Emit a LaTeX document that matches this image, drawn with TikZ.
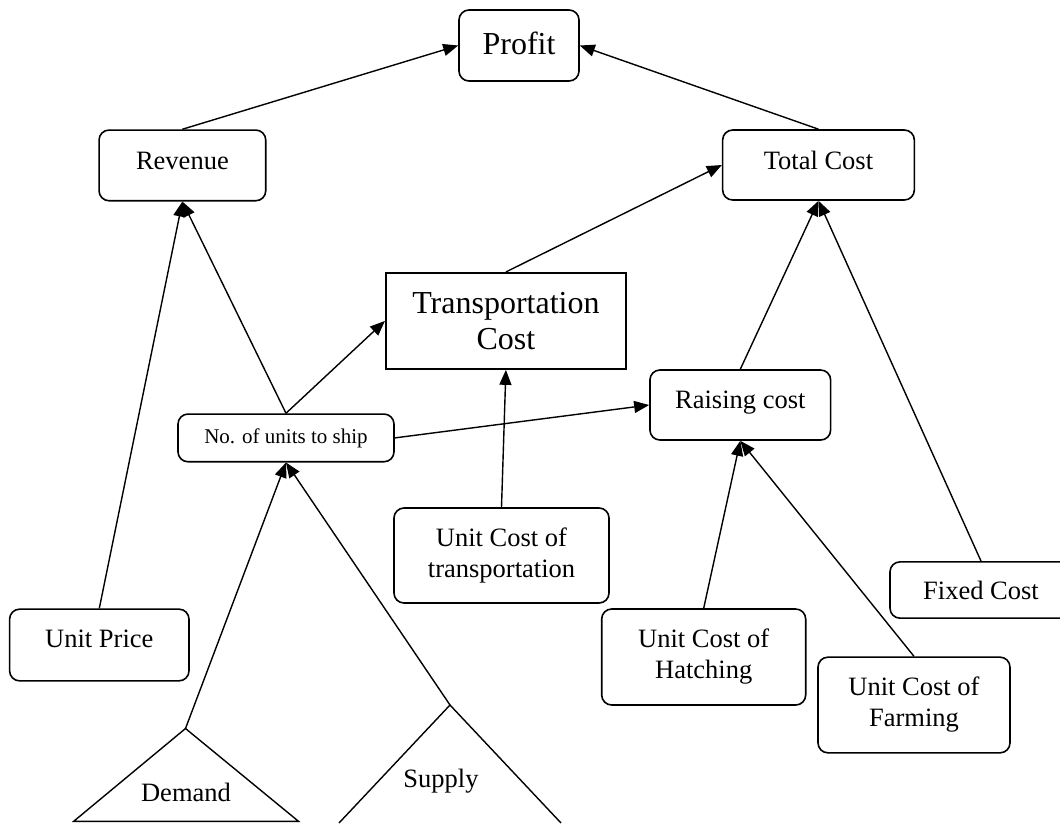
\documentclass[tikz,border=0pt]{standalone}
\usepackage{fontspec}
\setmainfont{Liberation Serif}
\usetikzlibrary{arrows.meta}
\newcommand{\lifted}[2]{\raisebox{#1}{#2}}
\begin{document}
\begin{tikzpicture}[x=1pt,y=-1pt,
  box/.style={draw, line width=1.6pt, rounded corners=10pt, align=center, inner sep=0pt,
    font=\fontsize{26.5}{31}\selectfont},
  bigbox/.style={box, font=\fontsize{32}{36}\selectfont},
  smallbox/.style={box, font=\fontsize{21}{24}\selectfont},
  con/.style={line width=1.4pt, -{Triangle[length=15pt,width=12pt]}},
  edge/.style={line width=1.4pt},
  txt/.style={inner sep=0pt, font=\fontsize{26.5}{31}\selectfont}]
\useasboundingbox (0,0) rectangle (1060,823);

\node[bigbox, minimum width=120pt, minimum height=71pt] (profit) at (519,45.5) {\lifted{5pt}{Profit}};
\node[box, minimum width=166.7pt, minimum height=70.7pt] (rev) at (182.4,165.4) {\lifted{10pt}{Revenue}};
\node[box, minimum width=191.7pt, minimum height=70pt] (tc) at (818.5,165) {\lifted{10pt}{Total Cost}};
\node[bigbox, sharp corners, minimum width=240.3pt, minimum height=96.3pt] (transp) at (505.9,320.9) {Transportation\\Cost};
\node[smallbox, minimum width=216pt, minimum height=47.7pt] (nu) at (286,437.9) {No. of units to ship};
\node[box, minimum width=180.7pt, minimum height=70pt] (raising) at (740.3,405) {\lifted{10pt}{Raising cost}};
\node[box, minimum width=215pt, minimum height=95pt] (uct) at (501.5,555.5) {Unit Cost of\\transportation};
\node[box, minimum width=182pt, minimum height=56.3pt] (fixed) at (981,590) {Fixed Cost};
\node[box, minimum width=179.4pt, minimum height=71.7pt] (up) at (99.3,645) {\lifted{12pt}{Unit Price}};
\node[box, minimum width=204pt, minimum height=96pt] (hatch) at (703.7,657) {Unit Cost of\\Hatching};
\node[box, minimum width=192pt, minimum height=95.7pt] (farm) at (914,705) {Unit Cost of\\Farming};

% triangles
\coordinate (dapex) at (185.5,728.5);
\coordinate (dleft) at (73.7,821.3);
\coordinate (dright) at (298.5,821.3);
\draw[edge, line join=miter] (dapex) -- (dright) -- (dleft) -- cycle;
\node[txt] (demand) at (186,792) {Demand};

\coordinate (sapex) at (450,705);
\coordinate (sleft) at (339,823);
\coordinate (sright) at (561,823);
\draw[edge] (sleft) -- (sapex) -- (sright);
\node[txt] (supply) at (441,781.5) {Supply};

% connectors
\draw[con] (rev.north) -- (profit.west);
\draw[con] (tc.north) -- (profit.east);
\draw[con] (transp.north) -- (tc.west);
\draw[con] (nu.north) -- (rev.south);
\draw[con] (nu.north) -- (transp.west);
\draw[con] (nu.east) -- (raising.west);
\draw[con] (uct.north) -- (transp.south);
\draw[con] (raising.north) -- (tc.south);
\draw[con] (fixed.north) -- (tc.south);
\draw[con] (hatch.north) -- (raising.south);
\draw[con] (farm.north) -- (raising.south);
\draw[con] (up.north) -- (rev.south);
\draw[con] (dapex) -- (nu.south);
\draw[con] (sapex) -- (nu.south);
\end{tikzpicture}
\end{document}
